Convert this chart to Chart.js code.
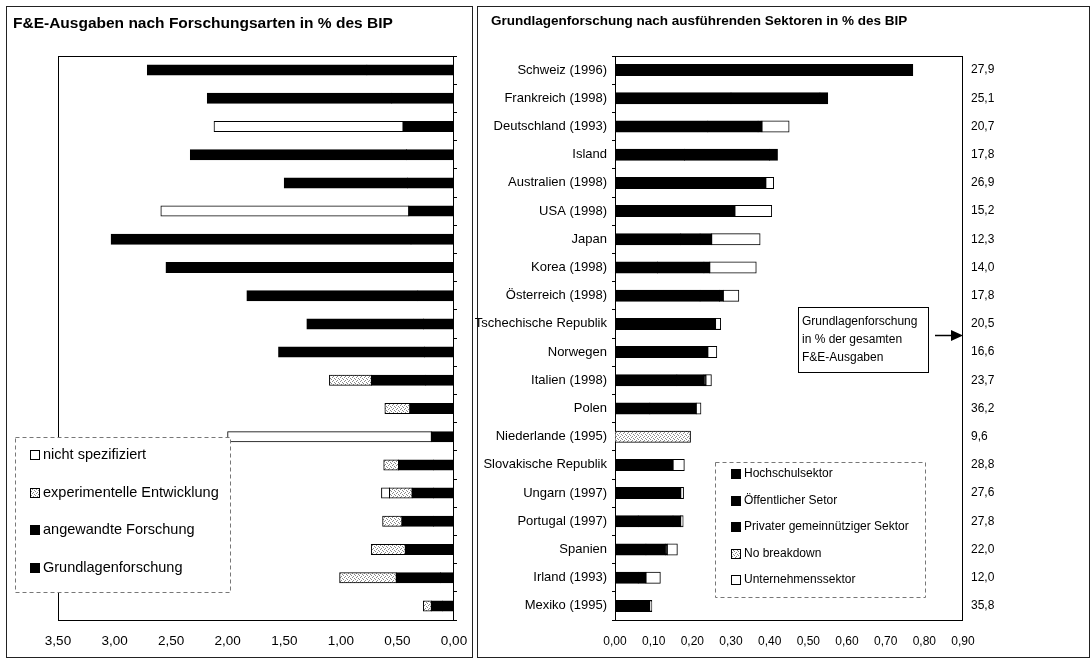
<!DOCTYPE html>
<html lang="de">
<head>
<meta charset="utf-8">
<title>F&amp;E-Ausgaben und Grundlagenforschung in % des BIP</title>
<script src="https://cdn.jsdelivr.net/npm/chart.js@4.4.1/dist/chart.umd.min.js"></script>
<style>
  html, body { margin: 0; padding: 0; background: #fff; }
  body { width: 1091px; height: 658px; position: relative; overflow: hidden; }
  .panel { position: absolute; border: 1px solid #222; }
  #panelLeft { left: 6px; top: 6px; width: 465px; height: 650px; }
  #panelRight { left: 477px; top: 6px; width: 611px; height: 650px; }
  canvas { position: absolute; }
  #leftChart { left: 7px; top: 7px; }
  #rightChart { left: 470px; top: 7px; }
</style>
</head>
<body>
<div class="panel" id="panelLeft"></div>
<div class="panel" id="panelRight"></div>
<canvas id="leftChart" width="465" height="650"></canvas>
<canvas id="rightChart" width="618" height="650"></canvas>
<script>
const gFont = '"Liberation Sans", Arial, sans-serif'

const gCountries = ['Schweiz (1996)', 'Frankreich (1998)', 'Deutschland (1993)', 'Island', 'Australien (1998)',
  'USA (1998)', 'Japan', 'Korea (1998)', 'Österreich (1998)', 'Tschechische Republik', 'Norwegen',
  'Italien (1998)', 'Polen', 'Niederlande (1995)', 'Slovakische Republik', 'Ungarn (1997)',
  'Portugal (1997)', 'Spanien', 'Irland (1993)', 'Mexiko (1995)']

// Grundlagenforschung in % der gesamten F&E-Ausgaben (rechte Randspalte)
const gShareLabels = ['27,9', '25,1', '20,7', '17,8', '26,9', '15,2', '12,3', '14,0', '17,8', '20,5',
  '16,6', '23,7', '36,2', '9,6', '28,8', '27,6', '27,8', '22,0', '12,0', '35,8']

// linkes Diagramm: F&E-Ausgaben nach Forschungsarten
const gGrundlagen = [0.77, 0.55, 0.45, 0.42, 0.41, 0.40, 0.38, 0.365, 0.32, 0.27, 0.26, 0.25, 0.22, 0.20, 0.18, 0.18, 0.18, 0.16, 0.12, 0.10]
const gAngewandt = [1.94, 1.63, 0, 1.91, 1.09, 0, 2.65, 2.18, 1.51, 1.03, 1.29, 0.48, 0.17, 0, 0.31, 0.19, 0.28, 0.27, 0.39, 0.10]
const gExperimentell = [0, 0, 0, 0, 0, 0, 0, 0, 0, 0, 0, 0.37, 0.22, 0, 0.13, 0.20, 0.17, 0.30, 0.50, 0.07]
const gNichtSpez = [0, 0, 1.67, 0, 0, 2.19, 0, 0, 0, 0, 0, 0, 0, 1.80, 0, 0.07, 0, 0, 0, 0]

// rechtes Diagramm: Grundlagenforschung nach Sektoren
const gHochschul = [0.55, 0.30, 0.24, 0.18, 0.22, 0.18, 0.17, 0.11, 0.22, 0.07, 0.15, 0.16, 0.09, 0, 0.03, 0.08, 0.06, 0.08, 0.06, 0.05]
const gOeffentlich = [0.04, 0.23, 0.13, 0.22, 0.15, 0.06, 0.05, 0.12, 0.05, 0.19, 0.08, 0.07, 0.12, 0, 0.12, 0.09, 0.09, 0.05, 0.02, 0.04]
const gPrivat = [0.18, 0.02, 0.01, 0.02, 0.02, 0.07, 0.03, 0.015, 0.01, 0, 0.01, 0.005, 0, 0, 0, 0, 0.02, 0.005, 0, 0]
const gNoBreakdown = [0, 0, 0, 0, 0, 0, 0, 0, 0, 0, 0, 0, 0, 0.195, 0, 0, 0, 0, 0, 0]
const gUnternehmen = [0, 0, 0.07, 0, 0.02, 0.095, 0.125, 0.12, 0.04, 0.013, 0.023, 0.014, 0.012, 0, 0.029, 0.007, 0.006, 0.026, 0.037, 0.005]

const gXTicksLeft = [0, 0.5, 1, 1.5, 2, 2.5, 3, 3.5]
const gXTicksRight = [0, 0.1, 0.2, 0.3, 0.4, 0.5, 0.6, 0.7, 0.8, 0.9]

Chart.defaults.font.family = gFont
Chart.defaults.color = '#000'
Chart.defaults.animation = false

function deComma(v) {
  return Number(v).toFixed(2).replace('.', ',')
}

function noZero(arr) {
  return arr.map(v => (v ? v : null))
}

function makeHatch(ctx) {
  const c = document.createElement('canvas')
  c.width = 4
  c.height = 4
  const g = c.getContext('2d')
  g.fillStyle = '#fff'
  g.fillRect(0, 0, 4, 4)
  g.fillStyle = '#8a8a8a'
  g.fillRect(0, 0, 1, 1)
  g.fillRect(2, 1, 1, 1)
  g.fillRect(1, 2, 1, 1)
  g.fillRect(3, 3, 1, 1)
  return ctx.createPattern(c, 'repeat')
}

// frame, title, legend box and notes
const panelDecor = {
  id: 'panelDecor',
  beforeDatasetsDraw(chart) {
    const { ctx, chartArea: a } = chart
    ctx.save()
    ctx.strokeStyle = '#000'
    ctx.lineWidth = 1
    ctx.strokeRect(Math.round(a.left) + 0.5, Math.round(a.top) + 0.5, Math.round(a.width) - 1, Math.round(a.height))
    ctx.restore()
  },
  afterDraw(chart, args, opts) {
    const ctx = chart.ctx
    ctx.save()
    ctx.fillStyle = '#000'
    ctx.font = 'bold ' + opts.titleSize + 'px ' + gFont
    ctx.textBaseline = 'alphabetic'
    ctx.fillText(opts.title, opts.titleX, opts.titleY)

    const lg = opts.legend
    ctx.fillStyle = '#fff'
    ctx.fillRect(lg.x, lg.y, lg.w, lg.h)
    ctx.setLineDash([4, 3])
    ctx.strokeStyle = '#777'
    ctx.strokeRect(lg.x + 0.5, lg.y + 0.5, lg.w, lg.h)
    ctx.setLineDash([])
    ctx.font = lg.fontSize + 'px ' + gFont
    ctx.textBaseline = 'middle'
    lg.order.forEach((di, k) => {
      const ds = chart.data.datasets[di]
      const cy = Math.round(lg.firstY + k * lg.step)
      ctx.fillStyle = ds.backgroundColor
      ctx.fillRect(lg.markX, cy - 5, 10, 10)
      ctx.strokeStyle = '#000'
      ctx.strokeRect(lg.markX + 0.5, cy - 4.5, 9, 9)
      ctx.fillStyle = '#000'
      ctx.fillText(ds.label, lg.markX + 13, cy)
    })

    if (opts.note) {
      const n = opts.note
      ctx.font = '12px ' + gFont
      ctx.fillStyle = '#fff'
      ctx.fillRect(n.x, n.y, n.w, n.h)
      ctx.strokeStyle = '#000'
      ctx.strokeRect(n.x + 0.5, n.y + 0.5, n.w, n.h)
      ctx.fillStyle = '#000'
      n.lines.forEach((t, k) => ctx.fillText(t, n.x + 4, n.y + 15 + k * 18))
      // arrow to the share column
      const a = n.arrow
      ctx.beginPath()
      ctx.moveTo(a.x1, a.y + 0.5)
      ctx.lineTo(a.x2 - 10, a.y + 0.5)
      ctx.lineWidth = 1.5
      ctx.stroke()
      ctx.beginPath()
      ctx.moveTo(a.x2, a.y + 0.5)
      ctx.lineTo(a.x2 - 12, a.y - 5)
      ctx.lineTo(a.x2 - 12, a.y + 6)
      ctx.closePath()
      ctx.fill()
    }
    ctx.restore()
  }
}

function displayLeftChart() {
  const ctx = document.getElementById('leftChart').getContext('2d')
  const hatch = makeHatch(ctx)
  const common = { borderColor: '#000', borderWidth: 1, borderSkipped: false, barThickness: 10, inflateAmount: 0.5 }
  new Chart(ctx, {
    type: 'bar',
    data: {
      labels: gCountries,
      datasets: [
        { label: 'Grundlagenforschung', data: noZero(gGrundlagen), backgroundColor: '#000', ...common },
        { label: 'angewandte Forschung', data: noZero(gAngewandt), backgroundColor: '#000', ...common },
        { label: 'experimentelle Entwicklung', data: noZero(gExperimentell), backgroundColor: hatch, ...common },
        { label: 'nicht spezifiziert', data: noZero(gNichtSpez), backgroundColor: '#fff', ...common }
      ]
    },
    options: {
      responsive: false,
      indexAxis: 'y',
      layout: { padding: { left: 51, top: 49, right: 0, bottom: 0 } },
      scales: {
        x: {
          stacked: true,
          reverse: true,
          min: 0,
          max: 3.5,
          afterBuildTicks: axis => { axis.ticks = gXTicksLeft.map(v => ({ value: v })) },
          afterFit: axis => { axis.height = 37 },
          grid: { display: false, drawTicks: false },
          border: { display: false },
          ticks: { padding: 13, font: { size: 13.5 }, callback: v => deComma(v) }
        },
        y: {
          stacked: true,
          position: 'right',
          afterFit: axis => { axis.width = 18 },
          grid: { drawOnChartArea: false, drawTicks: true, tickLength: 3, color: '#000', offset: true },
          border: { display: false },
          ticks: { display: false }
        }
      },
      plugins: {
        legend: { display: false },
        tooltip: { enabled: false },
        panelDecor: {
          title: 'F&E-Ausgaben nach Forschungsarten in % des BIP',
          titleSize: 15.5,
          titleX: 6,
          titleY: 21,
          legend: { x: 8, y: 430, w: 215, h: 155, markX: 23, firstY: 448, step: 37.7, fontSize: 14.5, order: [3, 2, 1, 0] }
        }
      }
    },
    plugins: [panelDecor]
  })
}

function displayRightChart() {
  const ctx = document.getElementById('rightChart').getContext('2d')
  const hatch = makeHatch(ctx)
  const common = { borderColor: '#000', borderWidth: 1, borderSkipped: false, barThickness: 11, inflateAmount: 0.5, yAxisID: 'y' }
  new Chart(ctx, {
    type: 'bar',
    data: {
      labels: gCountries,
      datasets: [
        { label: 'Hochschulsektor', data: noZero(gHochschul), backgroundColor: '#000', ...common },
        { label: 'Öffentlicher Setor', data: noZero(gOeffentlich), backgroundColor: '#000', ...common },
        { label: 'Privater gemeinnütziger Sektor', data: noZero(gPrivat), backgroundColor: '#000', ...common },
        { label: 'No breakdown', data: noZero(gNoBreakdown), backgroundColor: hatch, ...common },
        { label: 'Unternehmenssektor', data: noZero(gUnternehmen), backgroundColor: '#fff', ...common }
      ]
    },
    options: {
      responsive: false,
      indexAxis: 'y',
      layout: { padding: { left: 0, top: 49, right: 0, bottom: 0 } },
      scales: {
        x: {
          stacked: true,
          min: 0,
          max: 0.9,
          afterBuildTicks: axis => { axis.ticks = gXTicksRight.map(v => ({ value: v })) },
          afterFit: axis => { axis.height = 37 },
          grid: { display: false, drawTicks: false },
          border: { display: false },
          ticks: { padding: 14, font: { size: 12 }, callback: v => deComma(v) }
        },
        y: {
          stacked: true,
          position: 'left',
          afterFit: axis => { axis.width = 145 },
          grid: { drawOnChartArea: false, drawTicks: true, tickLength: 3, color: '#000', offset: true },
          border: { display: false },
          ticks: { padding: 5, font: { size: 13 } }
        },
        y2: {
          type: 'category',
          labels: gShareLabels,
          position: 'right',
          offset: true,
          afterFit: axis => { axis.width = 125 },
          grid: { display: false, drawTicks: false },
          border: { display: false },
          ticks: { padding: 8, font: { size: 12 } }
        }
      },
      plugins: {
        legend: { display: false },
        tooltip: { enabled: false },
        panelDecor: {
          title: 'Grundlagenforschung nach ausführenden Sektoren in % des BIP',
          titleSize: 13.5,
          titleX: 21,
          titleY: 18,
          legend: { x: 245, y: 455, w: 210, h: 135, markX: 261, firstY: 467, step: 26.6, fontSize: 12, order: [0, 1, 2, 3, 4] },
          note: {
            x: 328, y: 300, w: 130, h: 65,
            lines: ['Grundlagenforschung', 'in % der gesamten', 'F&E-Ausgaben'],
            arrow: { x1: 465, x2: 493, y: 328 }
          }
        }
      }
    },
    plugins: [panelDecor]
  })
}

displayLeftChart()
displayRightChart()
</script>
</body>
</html>
